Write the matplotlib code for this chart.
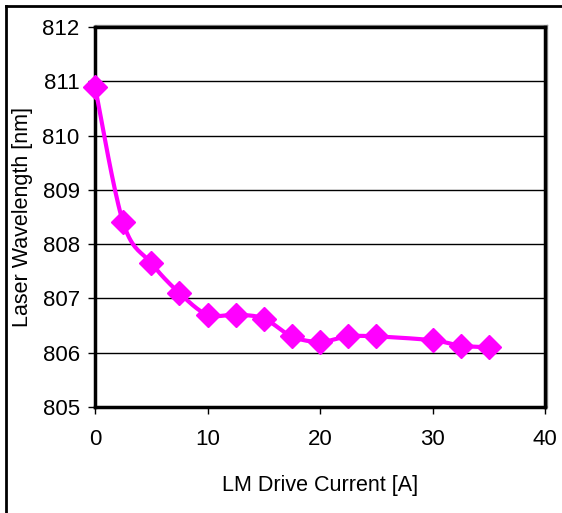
import numpy as np
import matplotlib.pyplot as plt
from matplotlib.lines import Line2D

plt.rcParams["font.family"] = ["Liberation Sans", "DejaVu Sans"]

current = [0, 2.5, 5, 7.5, 10, 12.5, 15, 17.5, 20, 22.5, 25, 30, 32.5, 35]
wavelength = [810.9, 808.4, 807.65, 807.1, 806.7, 806.7, 806.63, 806.3,
              806.2, 806.3, 806.3, 806.23, 806.13, 806.1]
x_ticks = [0, 10, 20, 30, 40]
y_ticks = [805, 806, 807, 808, 809, 810, 811, 812]


def smooth_curve(x, y, steps=20):
    # Catmull-Rom style smoothing, like the spreadsheet's "smoothed line"
    x = np.asarray(x, float)
    y = np.asarray(y, float)
    px = np.concatenate([[x[0]], x, [x[-1]]])
    py = np.concatenate([[y[0]], y, [y[-1]]])
    out_x, out_y = [], []
    t = np.linspace(0, 1, steps)
    for i in range(1, len(px) - 2):
        p0x, p1x, p2x, p3x = px[i - 1:i + 3]
        p0y, p1y, p2y, p3y = py[i - 1:i + 3]
        c1x, c1y = p1x + (p2x - p0x) / 6, p1y + (p2y - p0y) / 6
        c2x, c2y = p2x - (p3x - p1x) / 6, p2y - (p3y - p1y) / 6
        bx = (1 - t) ** 3 * p1x + 3 * (1 - t) ** 2 * t * c1x + 3 * (1 - t) * t ** 2 * c2x + t ** 3 * p2x
        by = (1 - t) ** 3 * p1y + 3 * (1 - t) ** 2 * t * c1y + 3 * (1 - t) * t ** 2 * c2y + t ** 3 * p2y
        out_x.extend(bx)
        out_y.extend(by)
    return np.array(out_x), np.array(out_y)


fig = plt.figure(figsize=(5.62, 5.13), dpi=100)
ax = fig.add_axes([95 / 562, 1 - 407 / 513, 450 / 562, 380 / 513])

sx, sy = smooth_curve(current, wavelength)
ax.plot(sx, sy, color="#FF00FF", linewidth=3, zorder=3, clip_on=False)
ax.plot(current, wavelength, linestyle="none", marker="D", markersize=12.5,
        color="#FF00FF", zorder=4, clip_on=False)

ax.set_xlim(0, 40)
ax.set_ylim(805, 812)
ax.set_xticks(x_ticks)
ax.set_yticks(y_ticks)
ax.grid(axis="y", color="black", linewidth=1)
ax.set_axisbelow(True)
for spine in ax.spines.values():
    spine.set_linewidth(2.5)
ax.tick_params(direction="out", length=5, width=1, labelsize=16, pad=11)
ax.tick_params(axis="y", pad=6)

ax.set_xlabel("LM Drive Current [A]", fontsize=15.5, labelpad=18)
ax.set_ylabel("Laser Wavelength [nm]", fontsize=15.5, labelpad=7)

# faint grey shadow along the top and right of the plot frame
l, r = 95 / 562, 545 / 562
b, t = 1 - 407 / 513, 1 - 27 / 513
dx, dy = 2 / 562, 2 / 513
fig.add_artist(Line2D([r + dx, r + dx], [b, t + dy], color="#999999",
                      linewidth=1, transform=fig.transFigure, zorder=0))
fig.add_artist(Line2D([l, r + dx], [t + dy, t + dy], color="#999999",
                      linewidth=1, transform=fig.transFigure, zorder=0))

# outer border of the chart area (only top and left edges are visible)
fig.add_artist(Line2D([6 / 562, 6 / 562], [0, 1 - 6 / 513], color="black",
                      linewidth=2, transform=fig.transFigure))
fig.add_artist(Line2D([6 / 562, 1], [1 - 6 / 513, 1 - 6 / 513], color="black",
                      linewidth=2, transform=fig.transFigure))

fig.savefig("out.png", dpi=100)
plt.close(fig)
